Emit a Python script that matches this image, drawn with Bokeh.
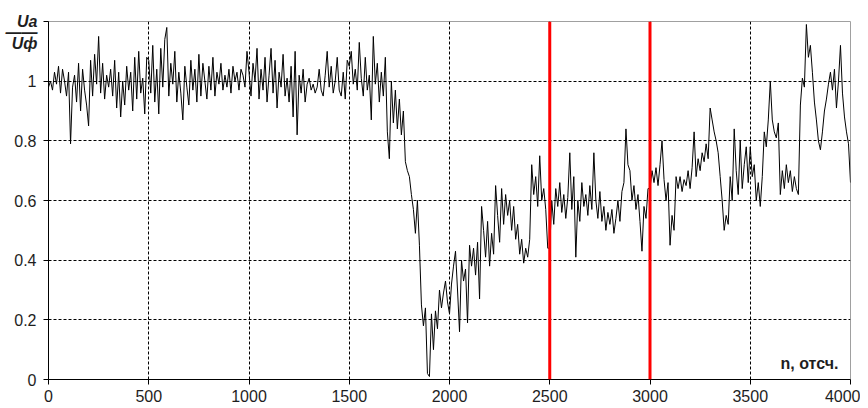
from bokeh.plotting import figure
from bokeh.models import FixedTicker, NumeralTickFormatter, Span, Label, LinearAxis, AllLabels
from bokeh.embed import file_html
from bokeh.resources import INLINE

# sample index (every 10th sample)
n = list(range(0, 4001, 10))

# Ua/Uф, 10 values per row (n = 0 .. 4000)
seg_0000 = [0.98, 1.00, 0.97, 1.03, 0.99, 1.05, 0.96, 1.04, 1.00, 0.95,
            1.03, 0.79, 0.98, 1.02, 0.93, 1.06, 0.90, 1.04, 0.97, 0.92,
            0.85, 1.07, 0.95, 1.09, 0.99, 1.15, 0.96, 1.06, 0.94, 1.02,
            0.98, 1.04, 0.95, 1.07, 0.91, 1.03, 0.88, 1.00, 0.92, 1.05,
            0.97, 1.03, 0.90, 1.08, 0.94, 1.10, 0.96, 1.01, 0.89, 1.08]
seg_0500 = [1.07, 0.96, 1.12, 0.93, 1.04, 0.89, 1.11, 0.98, 1.14, 1.18,
            0.95, 1.06, 0.99, 1.10, 0.93, 1.03, 0.96, 0.87, 1.05, 0.98,
            0.92, 1.07, 0.97, 1.04, 0.93, 1.09, 0.95, 1.06, 1.00, 0.94,
            1.05, 0.97, 1.08, 0.95, 1.03, 0.99, 1.06, 0.97, 1.02, 0.98,
            1.04, 0.96, 1.05, 1.00, 1.03, 0.97, 1.04, 1.02, 0.98, 1.10]
seg_1000 = [1.03, 0.95, 1.06, 1.00, 1.11, 0.94, 1.04, 0.97, 1.08, 0.93,
            1.02, 1.11, 0.96, 1.07, 0.91, 1.03, 0.98, 1.09, 0.95, 1.01,
            0.93, 1.05, 0.88, 1.10, 0.82, 1.02, 0.96, 1.04, 0.93, 0.99,
            1.01, 0.97, 0.99, 0.96, 0.98, 1.04, 0.97, 0.95, 1.02, 1.10,
            0.98, 1.05, 0.96, 1.00, 1.08, 0.97, 0.95, 1.03, 0.94, 1.07]
seg_1500 = [1.05, 1.10, 0.99, 1.04, 0.97, 1.13, 1.01, 0.95, 1.08, 0.97,
            1.02, 0.87, 1.15, 0.99, 1.06, 0.93, 1.03, 0.95, 1.08, 0.83,
            0.74, 1.00, 0.86, 0.97, 0.84, 0.94, 0.82, 0.90, 0.73, 0.70,
            0.68, 0.62, 0.57, 0.49, 0.60, 0.45, 0.25, 0.18, 0.24, 0.02,
            0.01, 0.22, 0.10, 0.23, 0.17, 0.30, 0.24, 0.29, 0.33, 0.26]
seg_2000 = [0.22, 0.32, 0.38, 0.43, 0.30, 0.16, 0.40, 0.33, 0.37, 0.19,
            0.45, 0.38, 0.44, 0.35, 0.46, 0.27, 0.58, 0.50, 0.41, 0.53,
            0.38, 0.49, 0.42, 0.65, 0.55, 0.46, 0.64, 0.52, 0.62, 0.55,
            0.60, 0.50, 0.58, 0.47, 0.52, 0.42, 0.47, 0.39, 0.44, 0.41,
            0.47, 0.72, 0.62, 0.68, 0.58, 0.75, 0.60, 0.64, 0.57, 0.44]
seg_2500 = [0.44, 0.60, 0.52, 0.64, 0.58, 0.66, 0.56, 0.62, 0.54, 0.61,
            0.76, 0.57, 0.68, 0.41, 0.60, 0.53, 0.66, 0.58, 0.62, 0.55,
            0.65, 0.57, 0.76, 0.60, 0.54, 0.63, 0.53, 0.58, 0.50, 0.56,
            0.52, 0.57, 0.49, 0.54, 0.60, 0.53, 0.63, 0.66, 0.84, 0.72,
            0.70, 0.60, 0.65, 0.57, 0.62, 0.53, 0.43, 0.58, 0.54, 0.64]
seg_3000 = [0.64, 0.70, 0.66, 0.71, 0.65, 0.72, 0.80, 0.67, 0.60, 0.66,
            0.45, 0.55, 0.50, 0.68, 0.64, 0.68, 0.63, 0.67, 0.65, 0.70,
            0.64, 0.71, 0.83, 0.68, 0.74, 0.70, 0.76, 0.73, 0.79, 0.74,
            0.91, 0.87, 0.83, 0.80, 0.76, 0.68, 0.60, 0.50, 0.55, 0.52,
            0.68, 0.60, 0.84, 0.70, 0.62, 0.80, 0.64, 0.72, 0.78, 0.66]
seg_3500 = [0.78, 0.68, 0.72, 0.60, 0.66, 0.58, 0.68, 0.83, 0.78, 0.87,
            1.00, 0.87, 0.83, 0.81, 0.86, 0.62, 0.70, 0.64, 0.72, 0.66,
            0.70, 0.63, 0.68, 0.64, 0.62, 0.92, 1.01, 0.98, 1.19, 1.08,
            1.12, 1.03, 0.93, 0.87, 0.80, 0.77, 0.83, 0.90, 0.94, 0.99,
            1.03, 0.97, 1.04, 0.91, 1.00, 1.12, 0.96, 0.88, 0.83, 0.79,
            0.66]

ratio = seg_0000 + seg_0500 + seg_1000 + seg_1500 + seg_2000 + seg_2500 + seg_3000 + seg_3500

marker_n = [2500, 3000]
x_ticks = [0, 500, 1000, 1500, 2000, 2500, 3000, 3500, 4000]
x_grid = [500, 1000, 1500, 2000, 2500, 3000, 3500]
y_ticks = [0, 0.2, 0.4, 0.6, 0.8, 1, 1.2]
y_grid = [0.2, 0.4, 0.6, 0.8, 1]
# y-axis title "Ua / Uф" written as a fraction at the top of the axis
title_pos = [1.2, 1.163, 1.126]
title_txt = ["Ua", "——", "Uф"]

FONT = "Liberation Sans"
TXT = "#1e1e1e"

p = figure(width=860, height=408, output_backend="svg", toolbar_location=None,
           x_range=(0, 4000), y_range=(0, 1.2),
           min_border_left=48, min_border_right=10, min_border_top=21, min_border_bottom=29)
p.background_fill_color = "white"
p.border_fill_color = "white"
p.outline_line_color = "#a0a0a0"
p.outline_line_width = 1

p.line(n, ratio, line_color="black", line_width=1)

for m in marker_n:
    p.add_layout(Span(location=m, dimension="height", line_color="#ff0000", line_width=3))

# axes
p.xaxis.ticker = FixedTicker(ticks=x_ticks)
p.yaxis.ticker = FixedTicker(ticks=y_ticks)
p.yaxis.formatter = NumeralTickFormatter(format="0.[0]")
p.yaxis.major_label_overrides = {1.2: ""}
for ax in (p.xaxis[0], p.yaxis[0]):
    ax.axis_line_color = "black"
    ax.axis_line_width = 1
    ax.major_tick_line_color = "black"
    ax.major_tick_in = 0
    ax.major_tick_out = 5
    ax.minor_tick_line_color = None
    ax.major_label_text_font = FONT
    ax.major_label_text_font_size = "16px"
    ax.major_label_text_color = TXT
p.xaxis.major_label_standoff = 5
p.yaxis.major_label_standoff = 7

# outer left axis that only carries the bold-italic fraction title
tax = LinearAxis(ticker=FixedTicker(ticks=title_pos),
                 major_label_overrides=dict(zip(title_pos, title_txt)),
                 major_label_policy=AllLabels(),
                 axis_line_color=None, major_tick_line_color=None, minor_tick_line_color=None,
                 major_tick_in=0, major_tick_out=0, major_label_standoff=-26,
                 major_label_text_font=FONT, major_label_text_font_size="16px",
                 major_label_text_font_style="bold italic", major_label_text_color=TXT)
p.add_layout(tax, "left")

p.xgrid.ticker = FixedTicker(ticks=x_grid)
p.ygrid.ticker = FixedTicker(ticks=y_grid)
for g in (p.xgrid[0], p.ygrid[0]):
    g.grid_line_color = "black"
    g.grid_line_dash = "3 2"
    g.grid_line_width = 1

# x-axis title inside the plot
p.add_layout(Label(x=3651, y=0.054, text="n, отсч.", text_font=FONT, text_font_size="16px",
                   text_font_style="bold", text_color=TXT, text_baseline="alphabetic"))

open("out.html", "w").write(file_html(p, INLINE))
